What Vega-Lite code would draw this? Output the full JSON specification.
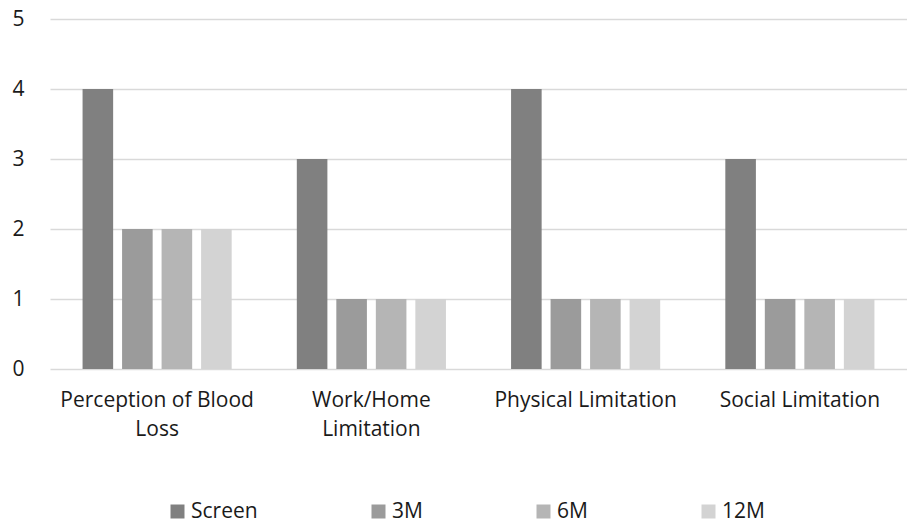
{
  "$schema": "https://vega.github.io/schema/vega-lite/v6.json",
  "width": 857,
  "height": 350,
  "autosize": "none",
  "padding": {"left": 50, "top": 19, "right": 0, "bottom": 154},
  "background": "white",
  "config": {
    "view": {"stroke": null},
    "font": "Open Sans"
  },
  "data": {
    "values": [
      {"category": "Perception of Blood Loss", "time": "Screen", "value": 4},
      {"category": "Perception of Blood Loss", "time": "3M", "value": 2},
      {"category": "Perception of Blood Loss", "time": "6M", "value": 2},
      {"category": "Perception of Blood Loss", "time": "12M", "value": 2},
      {"category": "Work/Home Limitation", "time": "Screen", "value": 3},
      {"category": "Work/Home Limitation", "time": "3M", "value": 1},
      {"category": "Work/Home Limitation", "time": "6M", "value": 1},
      {"category": "Work/Home Limitation", "time": "12M", "value": 1},
      {"category": "Physical Limitation", "time": "Screen", "value": 4},
      {"category": "Physical Limitation", "time": "3M", "value": 1},
      {"category": "Physical Limitation", "time": "6M", "value": 1},
      {"category": "Physical Limitation", "time": "12M", "value": 1},
      {"category": "Social Limitation", "time": "Screen", "value": 3},
      {"category": "Social Limitation", "time": "3M", "value": 1},
      {"category": "Social Limitation", "time": "6M", "value": 1},
      {"category": "Social Limitation", "time": "12M", "value": 1}
    ]
  },
  "mark": {"type": "bar"},
  "encoding": {
    "x": {
      "field": "category",
      "type": "nominal",
      "sort": ["Perception of Blood Loss", "Work/Home Limitation", "Physical Limitation", "Social Limitation"],
      "scale": {"paddingInner": 0.304, "paddingOuter": 0.152},
      "axis": {
        "title": null,
        "labelAngle": 0,
        "domain": false,
        "ticks": false,
        "labelFontSize": 21,
        "labelColor": "#1a1a1a",
        "labelPadding": 20,
        "labelLineHeight": 29,
        "labelLimit": 300,
        "labelOverlap": false,
        "labelExpr": "datum.label == 'Perception of Blood Loss' ? ['Perception of Blood', 'Loss'] : datum.label == 'Work/Home Limitation' ? ['Work/Home', 'Limitation'] : datum.label"
      }
    },
    "xOffset": {
      "field": "time",
      "type": "nominal",
      "sort": ["Screen", "3M", "6M", "12M"],
      "scale": {"paddingInner": 0.226, "paddingOuter": 0}
    },
    "y": {
      "field": "value",
      "type": "quantitative",
      "scale": {"domain": [0, 5]},
      "axis": {
        "title": null,
        "values": [0, 1, 2, 3, 4, 5],
        "labelOverlap": false,
        "domain": false,
        "ticks": false,
        "labelFontSize": 21,
        "labelColor": "#1a1a1a",
        "labelPadding": 26,
        "gridColor": "#d9d9d9",
        "gridWidth": 1.5
      }
    },
    "color": {
      "field": "time",
      "type": "nominal",
      "sort": ["Screen", "3M", "6M", "12M"],
      "scale": {
        "domain": ["Screen", "3M", "6M", "12M"],
        "range": ["#808080", "#9b9b9b", "#b5b5b5", "#d3d3d3"]
      },
      "legend": {
        "title": null,
        "orient": "none",
        "legendX": 117,
        "legendY": 482,
        "padding": 0,
        "direction": "horizontal",
        "columns": 4,
        "gridAlign": "none",
        "columnPadding": 110,
        "symbolType": "square",
        "symbolSize": 196,
        "symbolStrokeWidth": 0,
        "labelFontSize": 21,
        "labelColor": "#1a1a1a",
        "labelOffset": 3
      }
    }
  }
}
